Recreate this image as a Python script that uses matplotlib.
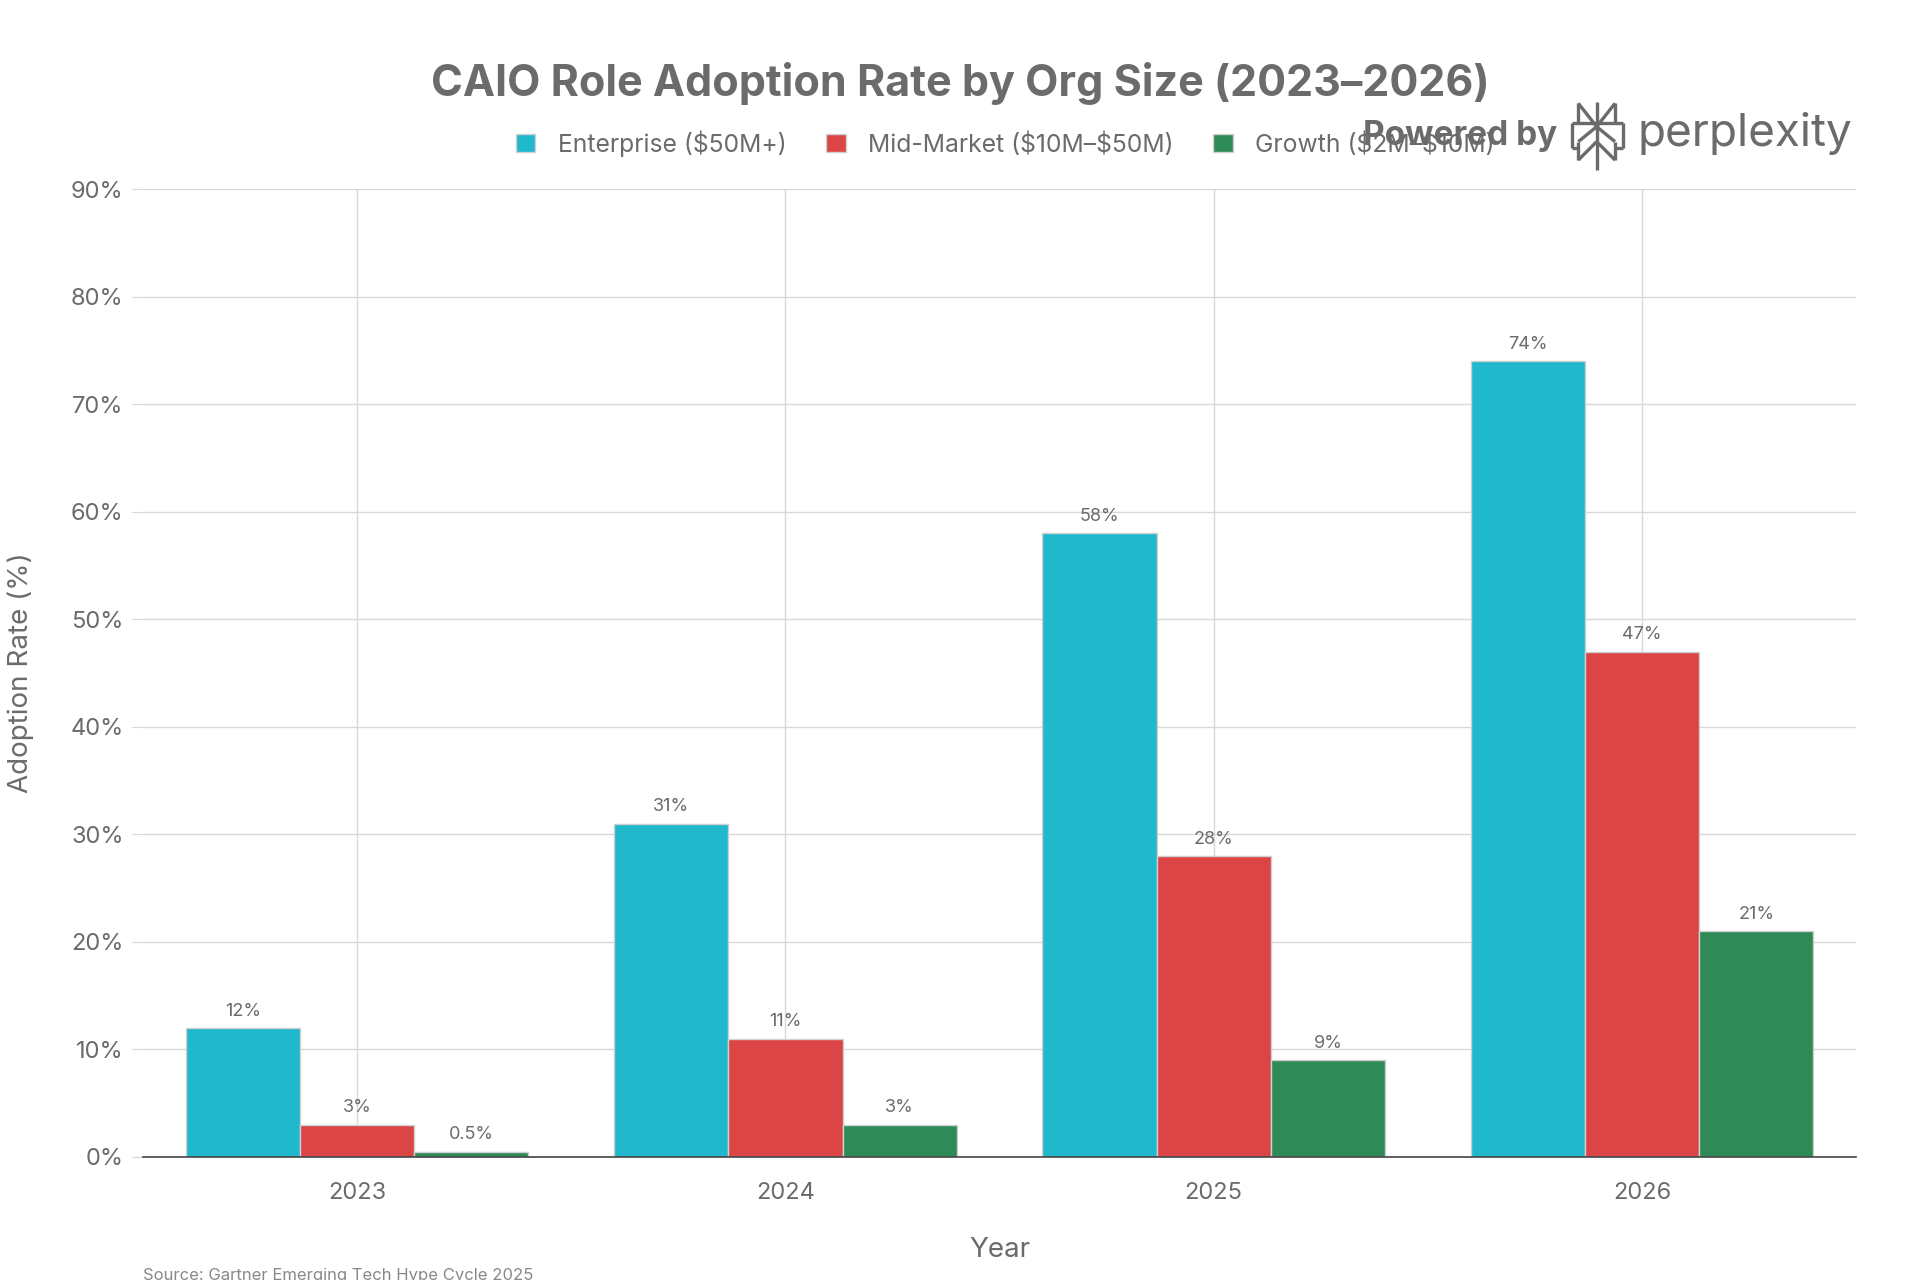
#!/usr/bin/env python3
import matplotlib
matplotlib.use('Agg')
import matplotlib.pyplot as plt
from matplotlib.collections import LineCollection
import numpy as np

plt.rcParams['font.family'] = ['Inter', 'DejaVu Sans']

years = ['2023', '2024', '2025', '2026']
series_names = ['Enterprise (\\$50M+)', 'Mid-Market (\\$10M–\\$50M)', 'Growth (\\$2M–\\$10M)']
enterprise = [12, 31, 58, 74]
mid_market = [3, 11, 28, 47]
growth = [0.5, 3, 9, 21]
colors = ['#1FB8CD', '#DB4545', '#2E8B57']
y_ticks = [0, 10, 20, 30, 40, 50, 60, 70, 80, 90]

GRAY = '#6b6b6b'
W, H = 1920, 1280

fig = plt.figure(figsize=(19.2, 12.8), dpi=100)
ax = fig.add_axes([0.0745, 0.0961, 0.8922, 0.7562])

x = np.arange(len(years))
w = 0.8 / 3
all_series = [enterprise, mid_market, growth]
for i, (vals, name, col) in enumerate(zip(all_series, series_names, colors)):
    pos = x + (i - 1) * w
    bars = ax.bar(pos, vals, width=w, color=col, edgecolor='#d0d0d0', linewidth=1.0,
                  label=name, zorder=3)
    for b, v in zip(bars, vals):
        lab = f'{v:g}%'
        ax.annotate(lab, (b.get_x() + b.get_width() / 2, v), xytext=(0, 6),
                    textcoords='offset points', ha='center', va='bottom',
                    fontsize=13, color=GRAY, zorder=4)

ax.set_xlim(-0.5, 3.5)
ax.set_ylim(0, 90)
ax.set_xticks(x)
ax.set_xticklabels(years)
ax.set_yticks(y_ticks)
ax.set_yticklabels([f'{t}%' for t in y_ticks])
ax.grid(True, color='#d8d8d8', linewidth=1.0, zorder=0)
ax.set_axisbelow(True)

for s in ['top', 'right', 'left']:
    ax.spines[s].set_visible(False)
ax.spines['bottom'].set_color('#444444')
ax.spines['bottom'].set_linewidth(1.2)
ax.spines['bottom'].set_zorder(5)

ax.tick_params(axis='y', length=8, color='#d8d8d8', labelsize=17, labelcolor=GRAY, pad=6)
ax.tick_params(axis='x', length=0, labelsize=17, labelcolor=GRAY, pad=18)

ax.set_xlabel('Year', fontsize=20, color=GRAY, labelpad=24)
ax.set_ylabel('Adoption Rate (%)', fontsize=20, color=GRAY, labelpad=26)

fig.text(0.5, 0.935, 'CAIO Role Adoption Rate by Org Size (2023–2026)', ha='center', va='center',
         fontsize=31, fontweight='bold', color=GRAY)

fig.legend(loc='center', bbox_to_anchor=(0.5235, 0.888), ncol=3, frameon=False,
           fontsize=17.8, labelcolor=GRAY, handlelength=0.8, handleheight=0.8,
           handletextpad=0.9, columnspacing=1.6)

# logo text
fig.text(0.811, 0.894, 'Powered by', ha='right', va='center', fontsize=24,
         fontweight='bold', color=GRAY)
fig.text(0.853, 0.896, 'perplexity', ha='left', va='center', fontsize=33, color=GRAY)

# logo glyph (outline sketch)
icon = [
    [(110, 20), (110, 225)],
    [(55, 25), (55, 85)], [(55, 25), (110, 95)],
    [(165, 25), (165, 85)], [(165, 25), (110, 95)],
    [(35, 85), (190, 85)],
    [(35, 85), (35, 160)], [(190, 85), (190, 160)],
    [(35, 160), (55, 160)], [(165, 160), (190, 160)],
    [(110, 95), (55, 140)], [(55, 140), (55, 195)], [(55, 195), (110, 140)],
    [(110, 95), (165, 140)], [(165, 140), (165, 195)], [(165, 195), (110, 140)],
]
segs = [[((1560 + zx / 3) / W, 1 - (95 + zy / 3) / H) for zx, zy in seg] for seg in icon]
fig.add_artist(LineCollection(segs, colors=GRAY, linewidths=2.4, transform=fig.transFigure))

fig.text(0.0745, 0.009, 'Source: Gartner Emerging Tech Hype Cycle 2025', ha='left', va='top',
         fontsize=12, color='#888888')

fig.savefig('out.png', dpi=100)
